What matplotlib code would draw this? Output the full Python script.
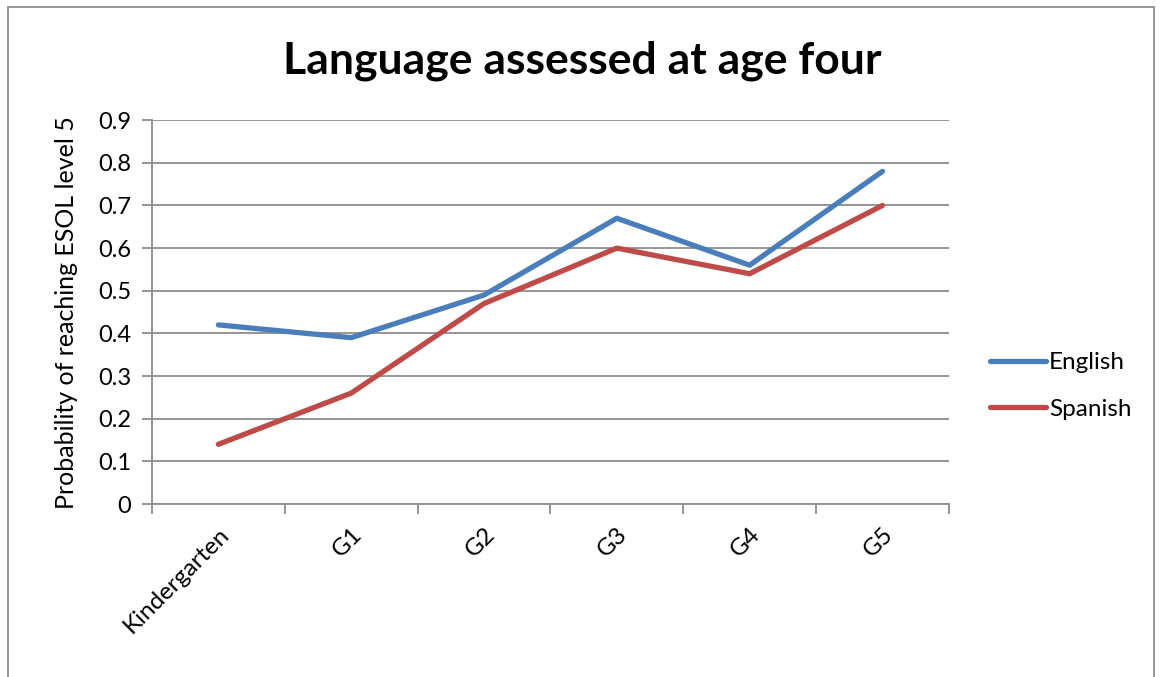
import matplotlib
matplotlib.use("Agg")
import matplotlib.pyplot as plt
from matplotlib.patches import Rectangle

plt.rcParams["font.family"] = ["Lato", "DejaVu Sans"]

categorias = ["Kindergarten", "G1", "G2", "G3", "G4", "G5"]
english = [0.42, 0.39, 0.49, 0.67, 0.56, 0.78]
spanish = [0.14, 0.26, 0.47, 0.60, 0.54, 0.70]
y_ticks = [0, 0.1, 0.2, 0.3, 0.4, 0.5, 0.6, 0.7, 0.8, 0.9]

fig = plt.figure(figsize=(11.6, 6.77), dpi=100)
ax = fig.add_axes([0.131, 0.2555, 0.687, 0.567])

x = range(len(categorias))
ax.plot(x, english, color="#4A7EBB", linewidth=3.8, solid_capstyle="round", label="English")
ax.plot(x, spanish, color="#BE4B48", linewidth=3.8, solid_capstyle="round", label="Spanish")

ax.set_xlim(-0.5, len(categorias) - 0.5)
ax.set_ylim(0, 0.9)
ax.set_yticks(y_ticks)
ax.set_yticklabels([f"{v:g}" for v in y_ticks], fontsize=17)
ax.yaxis.grid(True, color="#8c8c8c", linewidth=1.3)
ax.set_axisbelow(True)

ax.set_xticks(list(x))
ax.set_xticklabels(categorias, rotation=45, ha="right", rotation_mode="anchor", fontsize=17.5)
ax.set_xticks([i - 0.5 for i in range(len(categorias) + 1)], minor=True)
ax.tick_params(axis="x", which="major", length=0, pad=14)
ax.tick_params(axis="x", which="minor", length=7, color="#8c8c8c", width=1.3)
ax.tick_params(axis="y", length=7, color="#8c8c8c", width=1.3, pad=8)

for lado in ["top", "right"]:
    ax.spines[lado].set_visible(False)
for lado in ["left", "bottom"]:
    ax.spines[lado].set_color("#8c8c8c")
    ax.spines[lado].set_linewidth(1.3)

ax.set_ylabel("Probability of reaching ESOL level 5", fontsize=18, labelpad=14)
fig.text(0.502, 0.911, "Language assessed at age four", fontsize=32, fontweight="bold",
         ha="center", va="center")

fig.legend(loc="center left", bbox_to_anchor=(0.835, 0.43), frameon=False, fontsize=17.5,
           handlelength=2.3, handletextpad=0.1, labelspacing=1.05)

# moldura do gráfico
fig.patches.append(Rectangle((0.007, -0.01), 0.988, 1.0, transform=fig.transFigure,
                             fill=False, edgecolor="#8c8c8c", linewidth=1.3))

fig.savefig("out.png", dpi=100)
